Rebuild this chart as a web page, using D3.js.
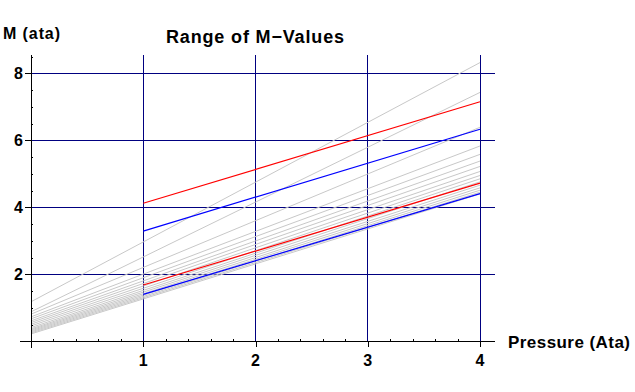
<!DOCTYPE html>
<html>
<head>
<meta charset="utf-8">
<script src="https://cdn.jsdelivr.net/npm/d3@7"></script>
<style>
  body { margin: 0; background: #fff; }
  text { font-family: "Liberation Sans", Arial, sans-serif; font-weight: bold; fill: #000; }
</style>
</head>
<body>
<div class="container"></div>
<script>
// gray compartment lines: M at P = 0 and at P = 4
const grayPressures = [0, 4];
const grayStart = [1.18, 0.88, 0.81, 0.73, 0.67, 0.61, 0.56, 0.51, 0.46, 0.41, 0.37, 0.34, 0.31, 0.28, 0.25, 0.22];
const grayEnd = [8.32, 7.43, 6.39, 5.83, 5.58, 5.38, 5.22, 5.07, 4.95, 4.85, 4.76, 4.66, 4.58, 4.51, 4.45, 4.40];

// coloured ranges, from P = 1 to P = 4
const rangePressures = [1, 4];
const redUpper = [4.12, 7.15];
const redLower = [1.68, 4.72];
const blueUpper = [3.29, 6.33];
const blueLower = [1.40, 4.41];

const xTicks = [1, 2, 3, 4];
const yTicks = [2, 4, 6, 8];

const width = 635;
const height = 392;

const svg = d3.select('.container')
              .append('svg')
              .attr('width', width)
              .attr('height', height);

const x = d3.scaleLinear().domain([0, 4]).range([31, 480]);
const y = d3.scaleLinear().domain([0, 8]).range([341.3, 73.3]);

const xMax = 4.13, yMax = 8.54;

//grid
const grid = svg.append('g').attr('shape-rendering', 'crispEdges');
grid.selectAll('.hgrid')
    .data(yTicks)
    .enter()
    .append('line')
    .attr('x1', x(0)).attr('x2', x(xMax))
    .attr('y1', d => y(d)).attr('y2', d => y(d))
    .attr('stroke', '#000080');
grid.selectAll('.vgrid')
    .data(xTicks)
    .enter()
    .append('line')
    .attr('x1', d => x(d)).attr('x2', d => x(d))
    .attr('y1', y(0)).attr('y2', y(yMax))
    .attr('stroke', '#000080');

const line = d3.line().x(d => x(d[0])).y(d => y(d[1]));

//gray lines
svg.append('g')
   .selectAll('path')
   .data(grayStart.map((s, i) => [[grayPressures[0], s], [grayPressures[1], grayEnd[i]]]))
   .enter()
   .append('path')
   .attr('d', line)
   .attr('fill', 'none')
   .attr('stroke', '#c8c8c8')
   .attr('stroke-width', 1);

//red and blue ranges
const ranges = [
  { vals: blueLower, color: '#0000ff' },
  { vals: redLower, color: '#ff0000' },
  { vals: blueUpper, color: '#0000ff' },
  { vals: redUpper, color: '#ff0000' }
];
svg.append('g')
   .selectAll('path')
   .data(ranges)
   .enter()
   .append('path')
   .attr('d', d => line(rangePressures.map((p, i) => [p, d.vals[i]])))
   .attr('fill', 'none')
   .attr('stroke', d => d.color)
   .attr('stroke-width', 1.2);

//axes
const axes = svg.append('g').attr('shape-rendering', 'crispEdges');
axes.append('line')
    .attr('x1', x(-0.1)).attr('x2', x(xMax))
    .attr('y1', y(0)).attr('y2', y(0))
    .attr('stroke', '#000');
axes.append('line')
    .attr('x1', x(0)).attr('x2', x(0))
    .attr('y1', y(-0.2)).attr('y2', y(yMax))
    .attr('stroke', '#000');

// x major ticks (down) and minor ticks (up)
const xAxis = d3.axisBottom(x).tickValues(xTicks).tickSizeInner(6).tickSizeOuter(0).tickFormat('');
const xg = svg.append('g').attr('transform', `translate(0,${y(0)})`).call(xAxis);
const xMinor = d3.range(0.2, 4.01, 0.2).filter(v => Math.abs(v - Math.round(v)) > 0.01);
const xAxisMinor = d3.axisTop(x).tickValues(xMinor).tickSizeInner(2).tickSizeOuter(0).tickFormat('');
const xgm = svg.append('g').attr('transform', `translate(0,${y(0)})`).call(xAxisMinor);

// y major ticks (left) and minor ticks (right)
const yAxis = d3.axisLeft(y).tickValues(yTicks).tickSizeInner(6).tickSizeOuter(0).tickFormat('');
const yg = svg.append('g').attr('transform', `translate(${x(0)},0)`).call(yAxis);
const yMinor = d3.range(0.5, 8.51, 0.5).filter(v => v % 2 !== 0);
const yAxisMinor = d3.axisRight(y).tickValues(yMinor).tickSizeInner(2).tickSizeOuter(0).tickFormat('');
const ygm = svg.append('g').attr('transform', `translate(${x(0)},0)`).call(yAxisMinor);

[xg, xgm, yg, ygm].forEach(g => {
  g.select('.domain').remove();
  g.selectAll('line').attr('shape-rendering', 'crispEdges').attr('stroke', '#000');
});

//tick labels
svg.selectAll('.xlab')
   .data(xTicks)
   .enter()
   .append('text')
   .attr('x', d => x(d))
   .attr('y', 366)
   .attr('text-anchor', 'middle')
   .style('font-size', '16px')
   .text(d => d);

svg.selectAll('.ylab')
   .data(yTicks)
   .enter()
   .append('text')
   .attr('x', 23)
   .attr('y', d => y(d) + 6)
   .attr('text-anchor', 'end')
   .style('font-size', '16px')
   .text(d => d);

//titles
svg.append('text')
   .attr('x', 166)
   .attr('y', 43)
   .style('font-size', '18px')
   .attr('textLength', 178)
   .text('Range of M\u2212Values');

svg.append('text')
   .attr('x', 3)
   .attr('y', 39)
   .style('font-size', '16px')
   .attr('textLength', 57)
   .text('M (ata)');

svg.append('text')
   .attr('x', 508)
   .attr('y', 348)
   .style('font-size', '17px')
   .attr('textLength', 122)
   .text('Pressure (Ata)');
</script>
</body>
</html>
